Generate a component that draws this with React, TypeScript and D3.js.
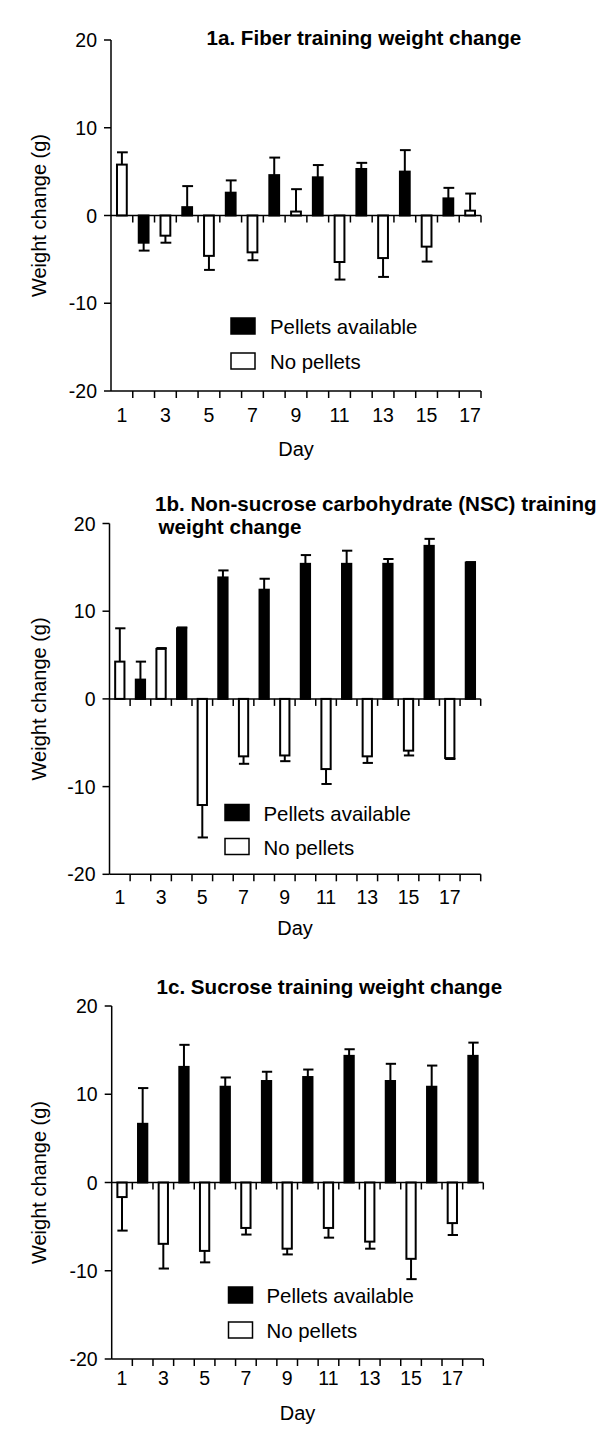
import React from "react";
import * as d3 from "d3";

// ---------- data ----------
const fiberDays = d3.range(1, 18);
const fiberPellets = [0, 1, 0, 1, 0, 1, 0, 1, 0, 1, 0, 1, 0, 1, 0, 1, 0];
const fiberMeans = [5.8, -3.1, -2.3, 0.95, -4.6, 2.6, -4.2, 4.6, 0.45, 4.35, -5.3, 5.3, -4.85, 5.0, -3.55, 1.95, 0.55];
const fiberErr = [1.4, 0.9, 0.8, 2.4, 1.6, 1.4, 0.9, 2.0, 2.55, 1.4, 2.0, 0.7, 2.15, 2.45, 1.7, 1.2, 1.95];

const nscDays = d3.range(1, 19);
const nscPellets = [0, 1, 0, 1, 0, 1, 0, 1, 0, 1, 0, 1, 0, 1, 0, 1, 0, 1];
const nscMeans = [4.25, 2.2, 5.7, 8.05, -12.1, 13.85, -6.55, 12.45, -6.45, 15.4, -8.0, 15.4, -6.55, 15.4, -5.9, 17.45, -6.75, 15.55];
const nscErr = [3.8, 2.05, 0.1, 0.1, 3.7, 0.8, 0.85, 1.25, 0.65, 1.0, 1.7, 1.5, 0.75, 0.55, 0.55, 0.8, 0.1, 0.05];

const sucDays = d3.range(1, 19);
const sucPellets = [0, 1, 0, 1, 0, 1, 0, 1, 0, 1, 0, 1, 0, 1, 0, 1, 0, 1];
const sucMeans = [-1.65, 6.65, -6.95, 13.1, -7.75, 10.85, -5.15, 11.5, -7.5, 11.95, -5.15, 14.35, -6.7, 11.5, -8.65, 10.85, -4.6, 14.35];
const sucErr = [3.8, 4.05, 2.8, 2.5, 1.3, 1.05, 0.75, 1.05, 0.65, 0.85, 1.1, 0.75, 0.8, 1.95, 2.3, 2.4, 1.35, 1.5];

const yTicks = [20, 10, 0, -10, -20];
const xTickLabels = [1, 3, 5, 7, 9, 11, 13, 15, 17];
const legendLabels = ["Pellets available", "No pellets"];
const yTitle = "Weight change (g)";
const xTitle = "Day";

const FONT = "'Liberation Sans', Arial, Helvetica, sans-serif";

type Panel = {
  days: number[];
  pellets: number[];
  means: number[];
  errs: number[];
  titles: { text: string; x: number; y: number }[];
  left: number; right: number; top: number; bottom: number;
  legX: number; legY1: number; legY2: number; legTextX: number;
  xLabY: number; dayY: number;
};

const panels: Panel[] = [
  {
    days: fiberDays, pellets: fiberPellets, means: fiberMeans, errs: fiberErr,
    titles: [{ text: "1a. Fiber training weight change", x: 206.5, y: 44.5 }],
    left: 111, right: 481, top: 40, bottom: 391,
    legX: 231, legY1: 318, legY2: 353, legTextX: 270,
    xLabY: 422, dayY: 456,
  },
  {
    days: nscDays, pellets: nscPellets, means: nscMeans, errs: nscErr,
    titles: [
      { text: "1b. Non-sucrose carbohydrate (NSC) training", x: 155, y: 510.5 },
      { text: "weight change", x: 158.5, y: 534 },
    ],
    left: 109.5, right: 480.7, top: 523.5, bottom: 874.3,
    legX: 225, legY1: 804.5, legY2: 838.5, legTextX: 263.5,
    xLabY: 903.5, dayY: 935,
  },
  {
    days: sucDays, pellets: sucPellets, means: sucMeans, errs: sucErr,
    titles: [{ text: "1c. Sucrose training weight change", x: 156.5, y: 994 }],
    left: 111.7, right: 483.3, top: 1006, bottom: 1359,
    legX: 228.5, legY1: 1287, legY2: 1322, legTextX: 266.5,
    xLabY: 1385, dayY: 1420,
  },
];

function ChartPanel({ p }: { p: Panel }) {
  const x = d3.scaleBand<number>().domain(p.days).range([p.left, p.right]).padding(0);
  const y = d3.scaleLinear().domain([-20, 20]).range([p.bottom, p.top]);
  const bw = x.bandwidth();
  const barW = bw * 0.45;
  const y0 = y(0);
  const boundaries = p.days.map((d) => (x(d) as number) + bw);
  const midY = (p.top + p.bottom) / 2;
  const midX = (p.left + p.right) / 2;

  return (
    <g>
      {p.titles.map((t, i) => (
        <text key={i} x={t.x} y={t.y} fontFamily={FONT} fontWeight="bold" fontSize={20.6} fill="#000">
          {t.text}
        </text>
      ))}
      {/* y axis */}
      <line x1={p.left} x2={p.left} y1={p.top} y2={p.bottom} stroke="#000" strokeWidth={1.5} />
      {yTicks.map((t) => (
        <g key={t}>
          <line x1={p.left - 7} x2={p.left} y1={y(t)} y2={y(t)} stroke="#000" strokeWidth={1.5} />
          <text x={p.left - 14} y={y(t)} dy="0.36em" textAnchor="end" fontFamily={FONT} fontSize={19.5} fill="#000">
            {t}
          </text>
        </g>
      ))}
      <text
        transform={`translate(46,${midY}) rotate(-90)`}
        textAnchor="middle" fontFamily={FONT} fontSize={20} fill="#000"
      >
        {yTitle}
      </text>

      {/* bars */}
      {p.days.map((d, i) => {
        const cx = (x(d) as number) + bw / 2;
        const v = p.means[i];
        const yv = y(v);
        const e = v >= 0 ? v + p.errs[i] : v - p.errs[i];
        const ye = y(e);
        return (
          <g key={d}>
            <line x1={cx} x2={cx} y1={yv} y2={ye} stroke="#000" strokeWidth={2} />
            <line x1={cx - barW / 2} x2={cx + barW / 2 + 1} y1={ye} y2={ye} stroke="#000" strokeWidth={2} />
            <rect
              x={cx - barW / 2}
              y={Math.min(yv, y0)}
              width={barW}
              height={Math.abs(yv - y0)}
              fill={p.pellets[i] ? "#000" : "#fff"}
              stroke="#000"
              strokeWidth={2}
            />
          </g>
        );
      })}

      {/* zero line with ticks */}
      <line x1={p.left} x2={p.right} y1={y0} y2={y0} stroke="#000" strokeWidth={1.5} />
      {boundaries.map((b, i) => (
        <line key={"z" + i} x1={b} x2={b} y1={y0} y2={y0 + 7} stroke="#000" strokeWidth={1.5} />
      ))}

      {/* bottom axis */}
      <line x1={p.left} x2={p.right} y1={p.bottom} y2={p.bottom} stroke="#000" strokeWidth={1.5} />
      {boundaries.map((b, i) => (
        <line key={"b" + i} x1={b} x2={b} y1={p.bottom} y2={p.bottom + 7} stroke="#000" strokeWidth={1.5} />
      ))}
      {xTickLabels.map((d) => (
        <text key={d} x={(x(d) as number) + bw / 2} y={p.xLabY} textAnchor="middle" fontFamily={FONT} fontSize={19.5} fill="#000">
          {d}
        </text>
      ))}
      <text x={midX} y={p.dayY} textAnchor="middle" fontFamily={FONT} fontSize={20} fill="#000">
        {xTitle}
      </text>

      {/* legend */}
      <rect x={p.legX} y={p.legY1} width={24} height={16} fill="#000" stroke="#000" strokeWidth={1.5} />
      <text x={p.legTextX} y={p.legY1 + 16} fontFamily={FONT} fontSize={20.4} fill="#000">
        {legendLabels[0]}
      </text>
      <rect x={p.legX} y={p.legY2} width={24} height={16} fill="#fff" stroke="#000" strokeWidth={1.5} />
      <text x={p.legTextX} y={p.legY2 + 16} fontFamily={FONT} fontSize={20.4} fill="#000">
        {legendLabels[1]}
      </text>
    </g>
  );
}

export default function App() {
  return (
    <svg
      width={604}
      height={1438}
      viewBox="0 0 604 1438"
      style={{ position: "absolute", left: 0, top: 0, background: "#fff" }}
    >
      <rect x={0} y={0} width={604} height={1438} fill="#fff" />
      {panels.map((p, i) => (
        <ChartPanel key={i} p={p} />
      ))}
    </svg>
  );
}
